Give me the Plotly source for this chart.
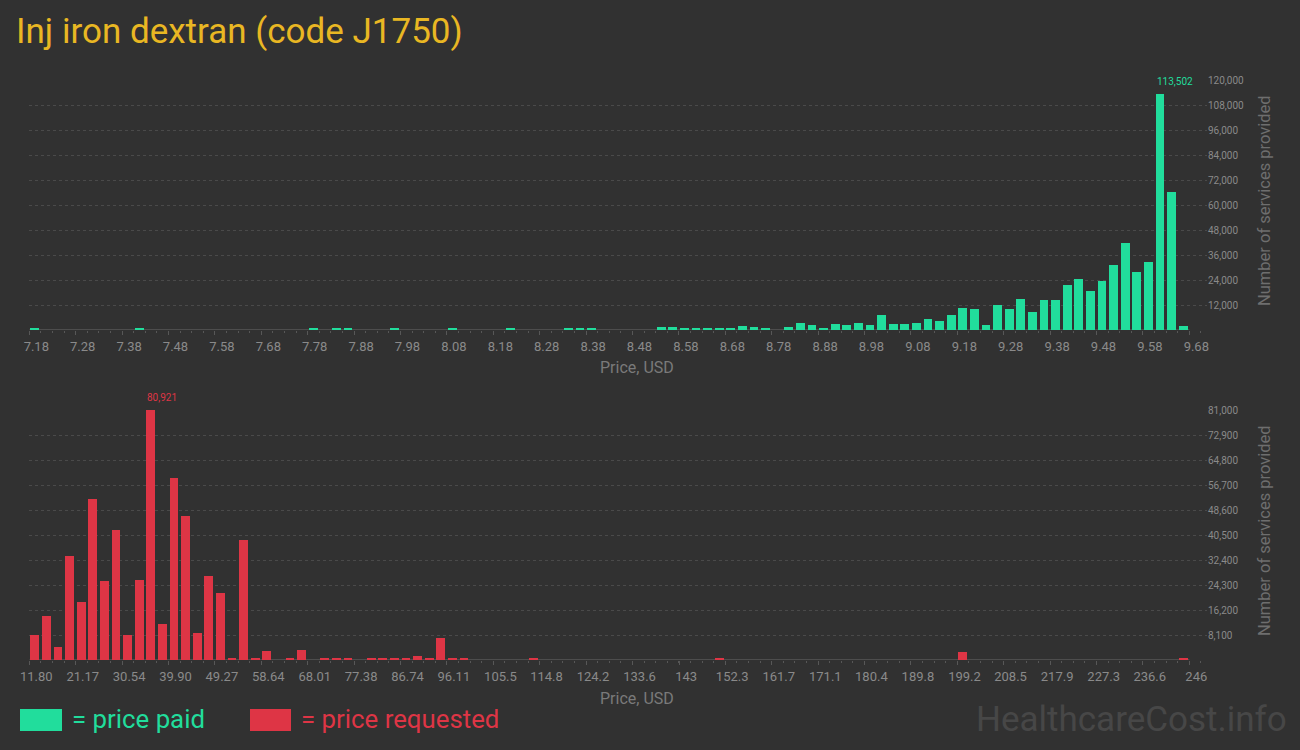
import plotly.graph_objects as go

# ---------------- data ----------------
title_text = "Inj iron dextran (code J1750)"

# price paid histogram (100 bins)
paid_bin_start = 7.18
paid_bin_width = 0.025
paid_counts = [0] * 100
paid_nonzero = {
    0: 550, 9: 550, 24: 550, 26: 1000, 27: 550, 31: 550, 36: 1000, 41: 550,
    46: 1100, 47: 550, 48: 550, 54: 1500, 55: 1500, 56: 1000, 57: 550, 58: 1000,
    59: 550, 60: 550, 61: 2000, 62: 1500, 63: 550, 65: 1440, 66: 3360, 67: 2400,
    68: 960, 69: 2880, 70: 2400, 71: 3360, 72: 2400, 73: 7200, 74: 2880, 75: 2880,
    76: 3360, 77: 5280, 78: 4320, 79: 7200, 80: 10560, 81: 10080, 82: 2400,
    83: 12000, 84: 10080, 85: 14880, 86: 8640, 87: 14400, 88: 14400, 89: 21600,
    90: 24480, 91: 18720, 92: 23520, 93: 31200, 94: 41760, 95: 27840, 96: 32640,
    97: 113502, 98: 66240, 99: 1920,
}
for k, v in paid_nonzero.items():
    paid_counts[k] = v

paid_tick_labels = ["7.18", "7.28", "7.38", "7.48", "7.58", "7.68", "7.78", "7.88",
                    "7.98", "8.08", "8.18", "8.28", "8.38", "8.48", "8.58", "8.68",
                    "8.78", "8.88", "8.98", "9.08", "9.18", "9.28", "9.38", "9.48",
                    "9.58", "9.68"]
paid_y_ticks = [12000, 24000, 36000, 48000, 60000, 72000, 84000, 96000, 108000, 120000]

# price requested histogram (100 bins)
req_bin_start = 11.80
req_bin_width = 2.342
req_counts = [0] * 100
req_nonzero = {
    0: 8100, 1: 14300, 2: 4200, 3: 33700, 4: 18800, 5: 52200, 6: 25600, 7: 42100,
    8: 8100, 9: 25900, 10: 80921, 11: 11700, 12: 59000, 13: 46700, 14: 8700,
    15: 27200, 16: 21700, 17: 650, 18: 38900, 19: 650, 20: 2900, 22: 650, 23: 3240,
    25: 400, 26: 400, 27: 650, 29: 400, 30: 650, 31: 330, 32: 330, 33: 1300,
    34: 650, 35: 7130, 36: 330, 37: 330, 43: 650, 59: 400, 80: 2600, 99: 330,
}
for k, v in req_nonzero.items():
    req_counts[k] = v

req_tick_labels = ["11.80", "21.17", "30.54", "39.90", "49.27", "58.64", "68.01",
                   "77.38", "86.74", "96.11", "105.5", "114.8", "124.2", "133.6",
                   "143", "152.3", "161.7", "171.1", "180.4", "189.8", "199.2",
                   "208.5", "217.9", "227.3", "236.6", "246"]
req_y_ticks = [8100, 16200, 24300, 32400, 40500, 48600, 56700, 64800, 72900, 81000]

# ---------------- styles ----------------
BG = "#313131"
GREEN = "#21DD9C"
RED = "#DE3545"
GOLD = "#E9B723"
TICK = "#8A8A8A"
GRID = "#4A4A4A"
AXIS = "#575757"
FONT = "Roboto, Liberation Sans, sans-serif"

W, H = 1300, 750
def px(x):
    return x / W
def py(y):
    return 1 - y / H

paid_x = [paid_bin_start + paid_bin_width * (i + 0.5) for i in range(len(paid_counts))]
req_x = [req_bin_start + req_bin_width * (i + 0.5) for i in range(len(req_counts))]
paid_end = paid_bin_start + paid_bin_width * len(paid_counts)
req_end = req_bin_start + req_bin_width * len(req_counts)

# plot area pixels
left_px, axis_end_px, grid_end_px = 29.3, 1189.3, 1207
top1, bot1 = 80, 330
top2, bot2 = 410, 660

def ext_range(start, end):
    scale = (axis_end_px - left_px) / (end - start)
    return [start, start + (grid_end_px - left_px) / scale]

fig = go.Figure()
fig.add_trace(go.Bar(x=paid_x, y=paid_counts, width=paid_bin_width * 0.76,
                     marker=dict(color=GREEN, line=dict(width=0)),
                     xaxis="x", yaxis="y", hoverinfo="x+y", showlegend=False))
fig.add_trace(go.Bar(x=req_x, y=req_counts, width=req_bin_width * 0.76,
                     marker=dict(color=RED, line=dict(width=0)),
                     xaxis="x2", yaxis="y2", hoverinfo="x+y", showlegend=False))

xcommon = dict(
    showgrid=False, zeroline=False, showline=False, automargin=False,
    ticks="outside", ticklen=4, tickwidth=1, tickcolor=AXIS,
    tickfont=dict(family=FONT, size=13, color=TICK),
    ticklabelshift=7, tickmode="array",
)
ycommon = dict(
    side="right", showgrid=True, gridcolor=GRID, griddash="3px,3px", gridwidth=1,
    zeroline=False, showline=False, ticks="", tickmode="array", automargin=False,
    tickfont=dict(family=FONT, size=10, color=TICK), tickformat=",",
)

fig.update_layout(
    width=W, height=H, autosize=False,
    margin=dict(l=0, r=0, t=0, b=0, pad=0, autoexpand=False),
    paper_bgcolor=BG, plot_bgcolor=BG, bargap=0,
    font=dict(family=FONT, color=TICK),
    xaxis=dict(domain=[px(left_px), px(grid_end_px)], anchor="y",
               range=ext_range(paid_bin_start, paid_end),
               tickvals=[float(t) for t in paid_tick_labels], ticktext=paid_tick_labels,
               minor=dict(tickmode="linear", tick0=paid_bin_start, dtick=paid_bin_width,
                          ticks="outside", ticklen=2, tickcolor=AXIS),
               **xcommon),
    yaxis=dict(domain=[py(bot1), py(top1)], anchor="x", range=[0, 120000],
               tickvals=paid_y_ticks, **ycommon),
    xaxis2=dict(domain=[px(left_px), px(grid_end_px)], anchor="y2",
                range=ext_range(req_bin_start, req_end),
                tickvals=[float(t) for t in req_tick_labels], ticktext=req_tick_labels,
                minor=dict(tickmode="linear", tick0=req_bin_start, dtick=req_bin_width,
                           ticks="outside", ticklen=2, tickcolor=AXIS),
                **xcommon),
    yaxis2=dict(domain=[py(bot2), py(top2)], anchor="x2", range=[0, 81000],
                tickvals=req_y_ticks, **ycommon),
)

# baselines (axis lines) spanning the binned range, drawn beneath the bars
fig.add_shape(type="line", xref="x", yref="y", x0=paid_bin_start, x1=paid_end, y0=0, y1=0,
              line=dict(color=AXIS, width=1.5), layer="below")
fig.add_shape(type="line", xref="x2", yref="y2", x0=req_bin_start, x1=req_end, y0=0, y1=0,
              line=dict(color=AXIS, width=1.5), layer="below")

# max value labels
pi = paid_counts.index(max(paid_counts))
fig.add_annotation(xref="x", yref="y", x=paid_bin_start + paid_bin_width * pi, y=paid_counts[pi],
                   text=f"{paid_counts[pi]:,}", showarrow=False, xanchor="left", yanchor="bottom",
                   xshift=0, yshift=5, font=dict(family=FONT, size=10, color=GREEN))
ri = req_counts.index(max(req_counts))
fig.add_annotation(xref="x2", yref="y2", x=req_bin_start + req_bin_width * ri, y=req_counts[ri],
                   text=f"{req_counts[ri]:,}", showarrow=False, xanchor="left", yanchor="bottom",
                   xshift=0, yshift=5, font=dict(family=FONT, size=10, color=RED))

# axis titles
for yy in (368, 698):
    fig.add_annotation(xref="paper", yref="paper", x=px(637), y=py(yy), text="Price, USD",
                       showarrow=False, xanchor="center", yanchor="middle",
                       font=dict(family=FONT, size=16, color="#7A7A7A"))
for yy in (201, 531):
    fig.add_annotation(xref="paper", yref="paper", x=px(1264), y=py(yy),
                       text="Number of services provided", textangle=-90,
                       showarrow=False, xanchor="center", yanchor="middle",
                       font=dict(family=FONT, size=16.5, color="#6E6E6E"))

# title
fig.add_annotation(xref="paper", yref="paper", x=px(14), y=py(32), text=title_text,
                   showarrow=False, xanchor="left", yanchor="middle",
                   font=dict(family=FONT, size=35, color=GOLD))

# legend
fig.add_shape(type="rect", xref="paper", yref="paper", x0=px(20), x1=px(62), y0=py(731), y1=py(709),
              fillcolor=GREEN, line=dict(width=0))
fig.add_annotation(xref="paper", yref="paper", x=px(70), y=py(719), text="= price paid",
                   showarrow=False, xanchor="left", yanchor="middle",
                   font=dict(family=FONT, size=25.8, color=GREEN))
fig.add_shape(type="rect", xref="paper", yref="paper", x0=px(250), x1=px(291), y0=py(731), y1=py(709),
              fillcolor=RED, line=dict(width=0))
fig.add_annotation(xref="paper", yref="paper", x=px(299), y=py(719), text="= price requested",
                   showarrow=False, xanchor="left", yanchor="middle",
                   font=dict(family=FONT, size=25.8, color=RED))

# watermark
fig.add_annotation(xref="paper", yref="paper", x=px(1289), y=py(719), text="HealthcareCost.info",
                   showarrow=False, xanchor="right", yanchor="middle",
                   font=dict(family=FONT, size=35, color="#474747"))

fig.write_html("out.html", config={"displayModeBar": False},
               post_script="document.body.style.margin='0';document.body.style.overflow='hidden';")
